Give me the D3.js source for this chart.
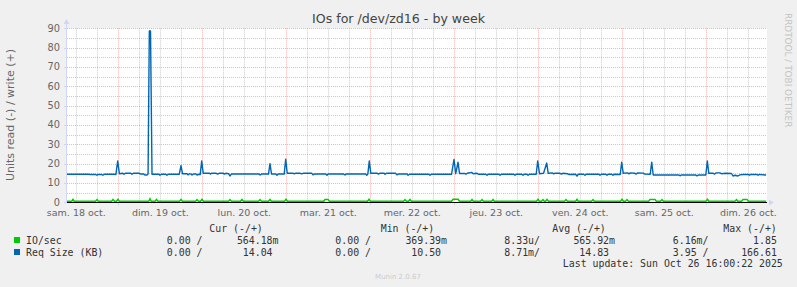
<!DOCTYPE html>
<html><head><meta charset="utf-8">
<script src="https://cdn.jsdelivr.net/npm/d3@7/dist/d3.min.js"></script>
<style>body{margin:0;background:#f0f0f0}svg{display:block}</style>
</head><body>
<svg id="c" width="797" height="287"></svg>
<script>
// ---------- data ----------
const chartTitle = "IOs for /dev/zd16 - by week";
const yAxisLabel = "Units read (-) / write (+)";
const watermark = "RRDTOOL / TOBI OETIKER";
const footer = "Munin 2.0.67";
const lastUpdate = "Last update: Sun Oct 26 16:00:22 2025";
const yTickValues = [0, 10, 20, 30, 40, 50, 60, 70, 80, 90];
const dayLabels = ["sam. 18 oct.", "dim. 19 oct.", "lun. 20 oct.", "mar. 21 oct.", "mer. 22 oct.", "jeu. 23 oct.", "ven. 24 oct.", "sam. 25 oct.", "dim. 26 oct."];
// hours since 18 Oct 00:00 for the window
const windowStartHour = 9.34;
const windowEndHour = 209.34;

// Req Size (KB), write side: [hours since 18 Oct 00:00, value]
const reqSize = [
[9.34,14.5],[15.5,14.5],[16.0,14.4],[17.6,14.4],[17.9,14.0],[18.3,14.4],[19.3,14.4],[19.6,14.0],[20.0,14.5],
[22.9,14.5],[23.3,14.3],[23.83,21.4],[24.3,14.8],[25.3,15.0],[25.6,14.5],[26.0,15.0],[27.6,15.0],[27.9,14.5],
[28.3,15.0],[30.0,15.0],[30.3,14.6],[31.3,14.6],[31.6,14.1],[32.2,14.1],[32.5,14.6],[32.86,88.6],[33.2,88.6],
[33.63,14.5],[35.6,14.5],[35.9,14.0],[36.3,14.5],[37.6,14.5],[37.9,14.0],[38.3,14.5],[41.4,14.5],[41.91,19.0],
[42.34,14.8],[43.6,14.8],[43.9,14.2],[44.3,14.8],[44.8,14.6],[45.06,14.1],[45.4,14.6],[46.2,14.6],[46.5,14.1],
[46.9,14.5],[47.4,14.3],[47.83,21.4],[48.26,15.0],[50.0,15.1],[50.3,14.6],[50.7,15.1],[52.0,15.0],[52.4,14.6],
[52.8,15.0],[54.0,15.0],[54.3,14.6],[54.7,15.0],[55.5,14.8],[55.9,13.6],[56.3,14.6],[60.0,14.6],[64.2,14.6],
[64.5,14.1],[64.9,14.6],[66.9,14.6],[67.34,20.0],[67.77,14.6],[69.0,14.6],[69.34,14.0],[69.7,14.6],[71.4,14.6],
[71.83,22.3],[72.26,15.0],[74.0,15.0],[74.3,14.7],[74.7,15.1],[76.0,15.0],[76.4,14.7],[76.8,15.0],[79.3,15.0],
[79.63,14.2],[80.0,14.6],[83.3,14.6],[83.63,14.0],[84.0,14.6],[88.4,14.6],[88.77,14.1],[89.1,14.6],[94.7,14.6],
[95.0,14.0],[95.29,14.6],[95.71,21.4],[96.14,15.0],[98.0,15.0],[98.3,14.6],[98.7,15.0],[100.0,15.0],[100.2,14.5],
[100.6,15.0],[103.2,15.0],[103.6,14.2],[104.0,14.6],[106.5,14.6],[106.8,14.0],[107.2,14.5],[112.7,14.5],
[113.06,14.0],[113.4,14.5],[119.2,14.5],[119.91,22.2],[120.4,14.8],[121.06,20.8],[121.49,14.9],[123.0,14.9],
[123.3,14.6],[123.7,15.0],[124.97,15.5],[125.4,14.8],[126.5,15.0],[126.9,14.5],[129.0,14.5],[129.34,14.0],
[129.7,14.5],[132.7,14.5],[133.06,14.0],[133.4,14.5],[137.0,14.5],[137.34,14.0],[137.7,14.5],[139.3,14.5],
[139.63,14.0],[140.0,14.5],[140.7,14.5],[141.06,14.0],[141.4,14.5],[143.4,14.5],[143.83,21.4],[144.34,14.8],
[145.5,15.0],[146.4,20.3],[146.83,15.0],[148.0,15.2],[148.4,14.7],[148.8,15.1],[150.2,15.0],[150.6,14.6],
[151.0,15.0],[152.3,14.8],[152.7,14.4],[154.7,14.5],[155.06,13.5],[155.4,14.5],[157.0,14.5],[157.34,14.0],
[157.7,14.5],[161.3,14.5],[161.63,14.0],[162.0,14.5],[163.3,14.5],[163.63,14.0],[164.0,14.5],[165.0,14.5],
[165.34,14.0],[165.7,14.5],[167.4,14.4],[167.83,20.8],[168.26,15.0],[169.5,15.2],[169.9,14.7],[170.3,15.2],
[171.63,15.0],[172.0,14.6],[172.4,15.2],[174.0,15.1],[174.4,14.6],[175.97,14.5],[176.4,20.8],[176.83,14.1],
[184.2,14.1],[184.49,13.7],[184.8,14.1],[189.0,14.1],[189.34,13.7],[189.7,14.1],[191.86,14.1],[192.29,21.4],
[192.71,15.0],[194.0,15.0],[194.4,14.6],[194.8,15.2],[195.9,15.2],[196.3,14.8],[197.5,15.0],[199.2,14.9],
[199.63,13.6],[200.2,14.0],[201.0,13.6],[201.6,14.2],[202.5,14.4],[204.0,14.4],[204.3,14.0],[204.7,14.4],
[206.5,14.4],[206.8,14.0],[207.2,14.4],[209.06,14.1]
];

// IO/sec, write side: [hours since 18 Oct 00:00, value]
const ioSec = [
[9.34,0.55],[10.7,0.55],[11.06,1.5],[11.4,0.55],[17.5,0.55],[17.91,1.4],[18.3,0.55],[22.1,0.55],[22.49,1.5],
[22.9,0.55],[23.5,0.55],[23.91,1.6],[24.3,0.55],[32.7,0.55],[33.06,1.85],[33.4,0.55],[34.5,0.55],[34.91,1.5],
[35.3,0.55],[41.5,0.55],[41.91,1.5],[42.3,0.55],[46.1,0.55],[46.49,1.4],[46.9,0.55],[47.5,0.55],[47.91,1.6],
[48.3,0.55],[55.5,0.55],[55.91,1.4],[56.3,0.55],[58.9,0.55],[59.34,1.5],[59.7,0.55],[64.1,0.55],[64.49,1.4],
[64.9,0.55],[66.9,0.55],[67.34,1.5],[67.7,0.55],[71.5,0.55],[71.91,1.6],[72.3,0.55],[82.7,0.55],[83.06,1.5],
[83.91,1.5],[84.3,0.55],[95.2,0.55],[95.63,1.6],[96.0,0.55],[105.5,0.55],[105.91,1.4],[106.3,0.55],[106.9,0.55],
[107.34,1.5],[107.7,0.55],[119.2,0.55],[119.63,1.6],[121.06,1.6],[121.5,0.55],[124.7,0.55],[125.06,1.4],
[125.4,0.55],[127.5,0.55],[127.91,1.4],[128.3,0.55],[130.7,0.55],[131.06,1.4],[131.4,0.55],[143.5,0.55],
[143.91,1.6],[144.3,0.55],[144.9,0.55],[145.34,1.4],[145.7,0.55],[146.1,0.55],[146.49,1.5],[146.9,0.55],
[151.5,0.55],[151.91,1.4],[152.3,0.55],[154.7,0.55],[155.06,1.5],[155.4,0.55],[159.2,0.55],[159.63,1.4],
[160.0,0.55],[167.5,0.55],[167.91,1.6],[168.3,0.55],[168.9,0.55],[169.34,1.4],[169.7,0.55],[175.5,0.55],
[175.91,1.5],[177.34,1.5],[177.7,0.55],[178.9,0.55],[179.34,1.4],[179.7,0.55],[191.9,0.55],[192.34,1.6],
[192.7,0.55],[200.2,0.55],[200.63,1.4],[201.0,0.55],[202.1,0.55],[202.49,1.5],[203.63,1.5],[204.0,0.55],
[209.06,0.56]
];

const legendHeaders = ["Cur (-/+)", "Min (-/+)", "Avg (-/+)", "Max (-/+)"];
const seriesNames = ["IO/sec", "Req Size (KB)"];
const seriesColors = ["#00CC00", "#0066B3"];
const ioStats = ["0.00 /", "564.18m", "0.00 /", "369.39m", "8.33u/", "565.92m", "6.16m/", "1.85"];
const reqStats = ["0.00 /", "14.04", "0.00 /", "10.50", "8.71m/", "14.83", "3.95 /", "166.61"];

// ---------- drawing ----------
const base = Date.UTC(2025, 9, 18, 0, 0, 0);
const toDate = h => new Date(base + h * 3600e3);

const svg = d3.select("#c");
const L = 67, R = 767, T = 28.3, B = 202.3;
const x = d3.scaleUtc().domain([toDate(windowStartHour), toDate(windowEndHour)]).range([L, R]);
const y = d3.scaleLinear().domain([0, 90]).range([B, T]);
const px = v => Math.round(v) + 0.5;

const sans = "'DejaVu Sans', Verdana, sans-serif";
const mono = "'DejaVu Sans Mono', monospace";
const fontCol = "#666666";
const axisCol = "#CFD6F8";

svg.append("rect").attr("width", 797).attr("height", 287).attr("fill", "#f0f0f0");
svg.append("rect").attr("x", L).attr("y", T).attr("width", R - L).attr("height", B - T).attr("fill", "#ffffff");

const grid = svg.append("g");
// horizontal grid
const hMinor = d3.range(5, 90, 10);
grid.selectAll(".hmin").data(hMinor).join("line")
  .attr("x1", L).attr("x2", R).attr("y1", d => px(y(d))).attr("y2", d => px(y(d)))
  .attr("stroke", "rgba(140,140,140,0.45)").attr("stroke-dasharray", "1,1");
grid.selectAll(".hmaj").data(yTickValues.filter(v => v > 0)).join("line")
  .attr("x1", L).attr("x2", R).attr("y1", d => px(y(d))).attr("y2", d => px(y(d)))
  .attr("stroke", "rgba(230,90,90,0.45)").attr("stroke-dasharray", "1,1");
// vertical grid
const sixHours = x.ticks(d3.utcHour.every(6));
grid.selectAll(".vmin").data(sixHours.filter(d => d.getUTCHours() !== 0)).join("line")
  .attr("y1", T).attr("y2", B).attr("x1", d => px(x(d))).attr("x2", d => px(x(d)))
  .attr("stroke", "rgba(140,140,140,0.45)").attr("stroke-dasharray", "1,1");
const midnights = sixHours.filter(d => d.getUTCHours() === 0);
grid.selectAll(".vmaj").data(midnights).join("line")
  .attr("y1", T).attr("y2", B).attr("x1", d => px(x(d))).attr("x2", d => px(x(d)))
  .attr("stroke", "rgba(230,90,90,0.45)").attr("stroke-dasharray", "1,1");

// axes (rrdtool style)
const ax = svg.append("g");
ax.append("line").attr("x1", L - 0.5).attr("x2", L - 0.5).attr("y1", B).attr("y2", 22).attr("stroke", axisCol);
ax.append("path").attr("d", `M${L - 3.5},${24} L${L - 0.5},${19} L${L + 2.5},${24} Z`).attr("fill", axisCol);
ax.append("path").attr("d", `M${R + 2},${px(B) - 3} L${R + 7},${px(B)} L${R + 2},${px(B) + 3} Z`).attr("fill", axisCol);
ax.selectAll(".yt").data(yTickValues).join("line")
  .attr("x1", L - 3).attr("x2", L).attr("y1", d => px(y(d))).attr("y2", d => px(y(d))).attr("stroke", axisCol);
ax.selectAll(".xt").data(midnights).join("line")
  .attr("x1", d => px(x(d))).attr("x2", d => px(x(d))).attr("y1", px(B)).attr("y2", px(B) + 3).attr("stroke", axisCol);

// y tick labels
svg.append("g").selectAll("text").data(yTickValues).join("text")
  .attr("x", 60).attr("y", d => y(d) + 3.5).attr("text-anchor", "end")
  .attr("font-family", sans).attr("font-size", 9.8).attr("fill", fontCol).text(d => d);

// x day labels at noon
svg.append("g").selectAll("text").data(dayLabels).join("text")
  .attr("x", (d, i) => x(toDate(12 + 24 * i))).attr("y", 215.5).attr("text-anchor", "middle")
  .attr("font-family", sans).attr("font-size", 9.5).attr("fill", fontCol).text(d => d);

// series lines
const line = d3.line().x(d => x(toDate(d[0]))).y(d => y(d[1]));
// zero line
svg.append("line").attr("x1", L).attr("x2", R).attr("y1", px(B)).attr("y2", px(B)).attr("stroke", "#000").attr("stroke-width", 1);
svg.append("path").datum(ioSec).attr("d", line).attr("fill", "none").attr("stroke", seriesColors[0]).attr("stroke-width", 1.5);
svg.append("path").datum(reqSize).attr("d", line).attr("fill", "none").attr("stroke", seriesColors[1]).attr("stroke-width", 1.4).attr("stroke-linejoin", "round");

// title
svg.append("text").attr("x", 398.5).attr("y", 23).attr("text-anchor", "middle")
  .attr("font-family", sans).attr("font-size", 12.6).attr("fill", "#444").text(chartTitle);
// y label
svg.append("text").attr("transform", "translate(14,115) rotate(-90)").attr("text-anchor", "middle")
  .attr("font-family", sans).attr("font-size", 11).attr("fill", fontCol).text(yAxisLabel);
// watermark
svg.append("text").attr("transform", "translate(784.5,13) rotate(90)").attr("text-anchor", "start")
  .attr("font-family", sans).attr("font-size", 8.9).attr("fill", "#c4c4c4").text(watermark);

// legend
const charW = 9.9 * 0.602;
const lg = svg.append("g").attr("font-family", mono).attr("font-size", 9.9).attr("fill", "#333");
const headerX = [209.3, 380.7, 552.3, 723.3];
lg.selectAll(".hd").data(legendHeaders).join("text")
  .attr("x", (d, i) => headerX[i]).attr("y", 231.5).text(d => d).style("white-space", "pre");
const colEnd = [202.5, 278.5, 371, 447, 540, 615, 708.5, 782.8];
[ioStats, reqStats].forEach((stats, r) => {
  const yy = 244 + r * 12;
  lg.append("rect").attr("x", 14).attr("y", yy - 7).attr("width", 6).attr("height", 6).attr("fill", seriesColors[r]);
  lg.append("text").attr("x", 26).attr("y", yy).text(seriesNames[r]);
  lg.selectAll(".s" + r).data(stats).join("text")
    .attr("x", (d, i) => colEnd[i] - (/[a-z\/]$/.test(d) ? 0 : charW)).attr("y", yy)
    .attr("text-anchor", "end").style("white-space", "pre").text(d => d);
});
lg.append("text").attr("x", 782.8).attr("y", 267).attr("text-anchor", "end").text(lastUpdate);
svg.append("text").attr("x", 398).attr("y", 279).attr("text-anchor", "middle")
  .attr("font-family", sans).attr("font-size", 7).attr("fill", "#cccccc").text(footer);
</script>
</body></html>
